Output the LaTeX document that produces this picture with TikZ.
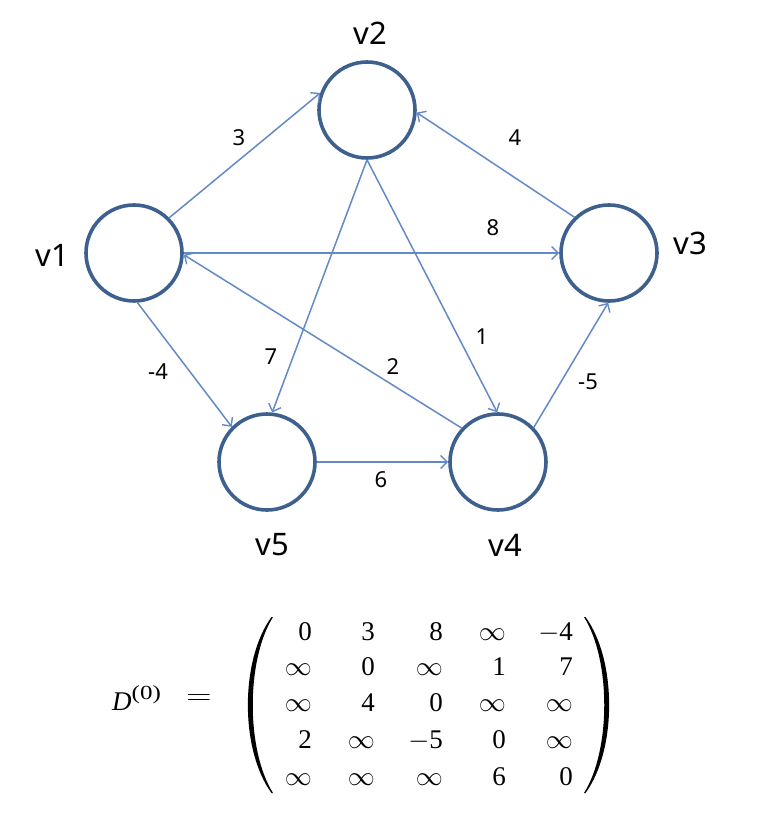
\RequirePackage{fix-cm}
\documentclass[tikz,border=0pt]{standalone}
\usepackage{graphicx}
\usepackage[no-math]{fontspec}
\setmainfont{Noto Sans}
\newfontfamily\tms{Liberation Serif}
\usetikzlibrary{arrows.meta}
\definecolor{edgeblue}{RGB}{98,138,198}
\definecolor{ringblue}{RGB}{62,96,142}
\begin{document}
\begin{tikzpicture}[x=1pt,y=-1pt,
  vertex/.style={circle,draw=ringblue,line width=3.6pt,minimum size=96pt,inner sep=0pt},
  vlabel/.style={font=\fontsize{31}{34}\selectfont,text=black,inner sep=0pt},
  wlabel/.style={font=\fontsize{22}{24}\selectfont,text=black,inner sep=0pt},
  edge/.style={draw=edgeblue,line width=1.5pt,-{Straight Barb[length=6.5pt,width=13pt,line width=1.4pt]}},
  entry/.style={anchor=base east,inner sep=0pt,font=\tms\fontsize{27}{30}\selectfont},
  paren/.style={fill=black}]
\useasboundingbox (0,0) rectangle (758,834);
% vertices
\node[vertex] (v1) at (134,253) {};
\node[vertex] (v2) at (367,110) {};
\node[vertex] (v3) at (609,253) {};
\node[vertex] (v4) at (498,462) {};
\node[vertex] (v5) at (267,462) {};
% vertex labels
\node[vlabel] (l2) at (370,33) {v2};
\node[vlabel] (l1) at (52,255) {v1};
\node[vlabel] (l3) at (690,243) {v3};
\node[vlabel] (l5) at (272,545) {v5};
\node[vlabel] (l4) at (505,545) {v4};
% edges
\draw[edge] (v1.45) -- (v2.160);
\draw[edge] (v3.134) -- (v2.-3);
\draw[edge] (v1) -- (v3);
\draw[edge] (v4.137) -- (v1.-2);
\draw[edge] (v1.-86) -- (v5.135);
\draw[edge] (v2.south) -- (v5.84);
\draw[edge] (v2.south) -- (v4.91);
\draw[edge] (v4.44) -- (v3.-91);
\draw[edge] (v5) -- (v4);
% weights
\node[wlabel] (w12) at (239,138) {3};
\node[wlabel] (w32) at (515,138) {4};
\node[wlabel] (w13) at (493,228) {8};
\node[wlabel] (w24) at (482,337) {1};
\node[wlabel] (w25) at (271,357) {7};
\node[wlabel] (w41) at (393,367) {2};
\node[wlabel] (w15) at (158,372) {-4};
\node[wlabel] (w43) at (588,382) {-5};
\node[wlabel] (w54) at (381,480) {6};
% matrix label
\node[anchor=base west,inner sep=0pt,font=\tms\fontsize{27}{30}\selectfont] (dl) at (112,710)
  {\textit{D}\raisebox{11pt}{\fontsize{20}{22}\selectfont\scalebox{1.25}[1]{(0)}}};
\node[inner sep=0pt,font=\fontsize{28}{30}\selectfont] (eq) at (199,700) {\scalebox{1.25}[1]{$=$}};
% matrix entries
\foreach \r/\y/\a/\b/\c/\d/\e in {
  1/640/0/3/8/{$\infty$}/{$-$4},
  2/675/{$\infty$}/0/{$\infty$}/1/7,
  3/711/{$\infty$}/4/0/{$\infty$}/{$\infty$},
  4/748/2/{$\infty$}/{$-$5}/0/{$\infty$},
  5/785/{$\infty$}/{$\infty$}/{$\infty$}/6/0}{
  \node[entry] (m-\r-1) at (312,\y) {\a};
  \node[entry] (m-\r-2) at (375,\y) {\b};
  \node[entry] (m-\r-3) at (443,\y) {\c};
  \node[entry] (m-\r-4) at (506,\y) {\d};
  \node[entry] (m-\r-5) at (573,\y) {\e};
}
% parentheses
\fill[paren] (273,617) .. controls (246,660) and (246,750) .. (273,793)
  -- (271.5,793) .. controls (240,750) and (240,660) .. (271.5,617) -- cycle;
\fill[paren] (584,617) .. controls (611,660) and (611,750) .. (584,793)
  -- (585.5,793) .. controls (617,750) and (617,660) .. (585.5,617) -- cycle;
\end{tikzpicture}
\end{document}
